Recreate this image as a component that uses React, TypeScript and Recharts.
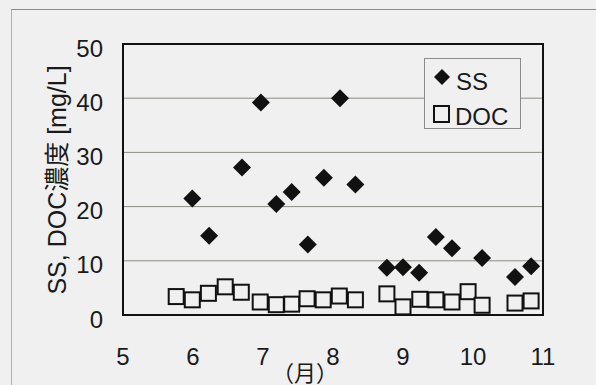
import {
  ScatterChart,
  Scatter,
  XAxis,
  YAxis,
  CartesianGrid,
  ReferenceArea,
  Legend,
  Label,
} from 'recharts';

const FONT = '"Liberation Sans", Arial, "Noto Sans CJK JP", sans-serif';
const BG = '#f0f0f0';

// month (decimal) vs concentration [mg/L]
const ssMonth = [5.99, 6.23, 6.7, 6.97, 7.19, 7.41, 7.64, 7.87, 8.1, 8.32, 8.77, 9.0, 9.23, 9.47, 9.7, 10.13, 10.6, 10.83];
const ssValue = [21.5, 14.6, 27.2, 39.2, 20.5, 22.7, 13.0, 25.3, 40.0, 24.1, 8.7, 8.8, 7.8, 14.4, 12.3, 10.5, 7.0, 9.0];

const docMonth = [5.76, 5.99, 6.22, 6.46, 6.69, 6.96, 7.19, 7.41, 7.63, 7.86, 8.09, 8.32, 8.77, 9.0, 9.24, 9.47, 9.7, 9.93, 10.13, 10.6, 10.83];
const docValue = [3.4, 2.8, 4.0, 5.2, 4.2, 2.4, 1.9, 2.0, 3.0, 2.8, 3.5, 2.8, 3.9, 1.5, 2.9, 2.8, 2.4, 4.3, 1.8, 2.2, 2.6];

const xTicks = [5, 6, 7, 8, 9, 10, 11];
const yTicks = [0, 10, 20, 30, 40, 50];

const ssData = ssMonth.map((m, i) => ({ month: m, value: ssValue[i] }));
const docData = docMonth.map((m, i) => ({ month: m, value: docValue[i] }));

const Diamond = (props: any) => {
  const { cx, cy } = props;
  const r = 9;
  return (
    <polygon
      points={`${cx},${cy - r} ${cx + r},${cy} ${cx},${cy + r} ${cx - r},${cy}`}
      fill="#111"
    />
  );
};

const Square = (props: any) => {
  const { cx, cy } = props;
  const s = 15;
  return (
    <rect x={cx - s / 2} y={cy - s / 2} width={s} height={s} fill={BG} stroke="#111" strokeWidth={2} />
  );
};

const XTick = (props: any) => {
  const { x, y, payload } = props;
  return (
    <text x={x} y={y} dy="0.36em" textAnchor="middle" fontSize={24} fontFamily={FONT} fill="#1a1a1a">
      {payload.value}
    </text>
  );
};

const YTick = (props: any) => {
  const { x, y, payload } = props;
  return (
    <text x={x} y={y + 4} dy="0.36em" textAnchor="end" fontSize={24} fontFamily={FONT} fill="#1a1a1a">
      {payload.value}
    </text>
  );
};

const LegendBox = () => (
  <svg width={95} height={69} style={{ display: 'block', overflow: 'visible' }}>
    <polygon points="17,10 25,18 17,26 9,18" fill="#111" />
    <text x={31} y={22} dy="0.36em" fontSize={24} fontFamily={FONT} fill="#1a1a1a">SS</text>
    <rect x={9} y={47} width={15} height={16} fill={BG} stroke="#111" strokeWidth={2} />
    <text x={30} y={57} dy="0.36em" fontSize={24} fontFamily={FONT} fill="#1a1a1a">DOC</text>
  </svg>
);

export default function App() {
  return (
    <div style={{ position: 'absolute', left: 0, top: 0, width: 596, height: 385, background: BG, overflow: 'hidden' }}>
      <div
        style={{
          position: 'absolute',
          left: 11,
          top: 9,
          width: 620,
          height: 420,
          borderTop: '1px solid #8a8a8a',
          borderLeft: '1px solid #b0b0b0',
        }}
      />
      <ScatterChart width={596} height={385} margin={{ top: 44, right: 53, left: 0, bottom: 0 }}>
        <CartesianGrid vertical={false} stroke="#8c8c80" strokeWidth={1} />
        <XAxis
          type="number"
          dataKey="month"
          domain={[5, 11]}
          ticks={xTicks}
          height={70}
          axisLine={false}
          tickLine={false}
          tickSize={0}
          tickMargin={41}
          tick={<XTick />}
          interval={0}
        >
          <Label
            content={(p: any) => (
              <text
                x={p.viewBox.x + 182}
                y={p.viewBox.y + 58}
                dy="0.36em"
                textAnchor="middle"
                fontSize={22}
                fontFamily={FONT}
                fill="#1a1a1a"
              >
                （月）
              </text>
            )}
          />
        </XAxis>
        <YAxis
          type="number"
          dataKey="value"
          domain={[0, 50]}
          ticks={yTicks}
          width={123}
          axisLine={false}
          tickLine={false}
          tickSize={0}
          tickMargin={20}
          tick={<YTick />}
          interval={0}
        >
          <Label
            content={() => (
              <text
                x={57}
                y={180}
                dy="0.36em"
                textAnchor="middle"
                fontSize={25}
                fontFamily={FONT}
                fill="#1a1a1a"
                transform="rotate(-90 57 180)"
              >
                SS, DOC濃度 [mg/L]
              </text>
            )}
          />
        </YAxis>
        <ReferenceArea x1={5} x2={11} y1={0} y2={50} fill="none" stroke="#111" strokeWidth={2} fillOpacity={0} />
        <Scatter name="SS" data={ssData} shape={<Diamond />} isAnimationActive={false} />
        <Scatter name="DOC" data={docData} shape={<Square />} isAnimationActive={false} />
        <Legend
          layout="horizontal"
          verticalAlign="middle"
          align="center"
          content={<LegendBox />}
          wrapperStyle={{
            left: 424,
            top: 58,
            width: 97,
            height: 71,
            border: '1px solid #8a8a8a',
            boxSizing: 'border-box',
            background: BG,
          }}
        />
      </ScatterChart>
    </div>
  );
}
